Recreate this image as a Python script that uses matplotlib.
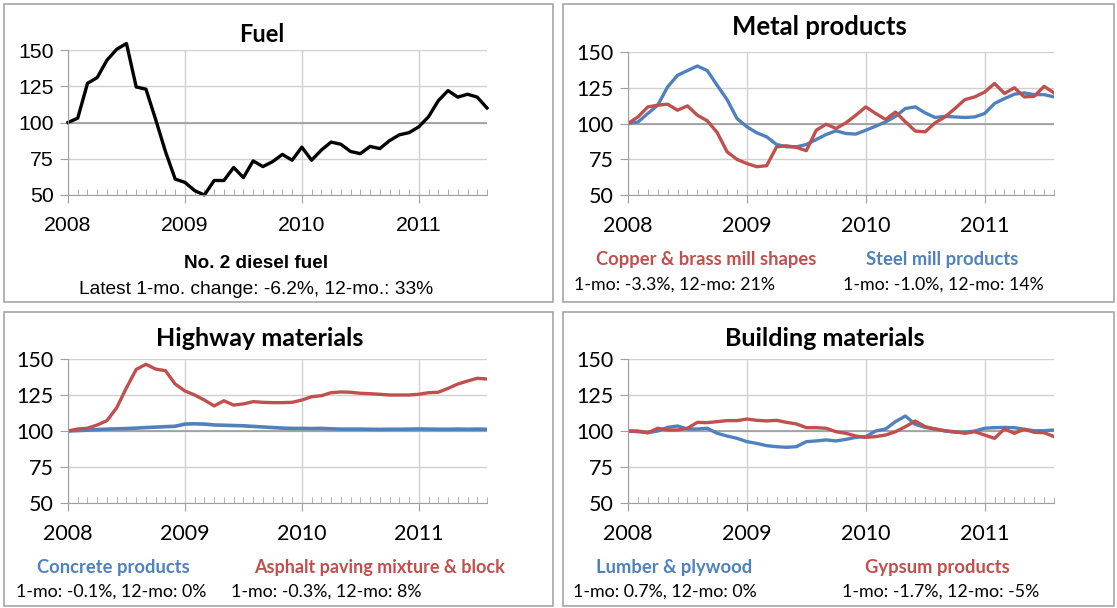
import numpy as np
import matplotlib
matplotlib.use('Agg')
from matplotlib import pyplot as plt
from matplotlib.patches import Rectangle

# monthly index values, Jan 2008 = 100, Jan 2008 .. Aug 2011
years = ['2008', '2009', '2010', '2011']

diesel = [100, 103, 127, 131, 143, 150.5, 154.5, 124.5, 123, 102, 80, 61,
          58.7, 53, 50, 60, 60, 69, 62, 73.5, 69.6, 73, 78, 74,
          83, 74, 81, 86.5, 85, 80, 78.5, 83.5, 82, 87.5, 91.5, 93,
          97, 104, 115, 122, 117.5, 119.5, 117.5, 110]

copper = [100, 104.6, 111.6, 112.8, 113.5, 109.3, 112.3, 105.8, 101.9, 93.7, 80.2, 74.9,
          72, 69.8, 70.5, 83.7, 84.4, 83.3, 81, 95.3, 99.5, 96.5, 100.5, 105.8,
          111.6, 107, 102.8, 108, 101.2, 94.7, 94.2, 100.5, 104.6, 110.5, 116.7, 118.6,
          122, 128, 121, 125, 118.6, 119, 126, 121.4]

steel = [100, 101, 107, 112.8, 125.6, 133.7, 137, 140.2, 137, 126.7, 116.7, 103.5,
         97.7, 93.5, 90.7, 85.3, 83.7, 83.7, 85.3, 88.8, 92.3, 94.9, 93, 92.6,
         95.3, 98.1, 101.1, 105, 110.5, 111.6, 107.4, 104.2, 105, 104.6, 104.2, 104.6,
         107, 114, 117.4, 120.5, 121.4, 120.2, 120.2, 118.6]

concrete = [100, 100.3, 100.6, 101, 101.3, 101.5, 101.7, 102, 102.4, 102.7, 103, 103.3,
            104.8, 105, 104.8, 104.2, 104, 103.8, 103.6, 103.2, 102.8, 102.4, 102, 101.8,
            101.8, 101.7, 101.8, 101.5, 101.3, 101.3, 101.3, 101.2, 101.1, 101.2, 101.2, 101.3,
            101.4, 101.3, 101.2, 101.2, 101.3, 101.2, 101.3, 101.2]

asphalt = [100, 101.4, 101.9, 104.2, 107.2, 116.2, 130, 142.8, 146.3, 143, 141.9, 132.6,
           127.8, 125, 121.5, 117.4, 121, 118, 118.8, 120.4, 119.9, 119.7, 119.7, 119.9,
           121.5, 123.8, 124.5, 126.6, 127.1, 126.9, 126.2, 125.9, 125.5, 125, 125, 125,
           125.5, 126.6, 126.9, 129.6, 132.6, 134.7, 136.6, 136.1]

lumber = [100, 99.5, 98.8, 100, 102.5, 103.5, 101.4, 101.4, 101.9, 98.4, 96.5, 94.9,
          92.6, 91.4, 89.8, 89.1, 88.7, 89.1, 92.6, 93.1, 93.8, 93.1, 94.2, 95.6,
          96.1, 100, 101.4, 106.5, 110.4, 104.6, 102.5, 101.4, 100, 99.1, 99.1, 100,
          101.9, 102.3, 102.5, 102.3, 101.2, 100.2, 100.2, 100.7]

gypsum = [100, 100, 98.8, 101.9, 100.7, 100.7, 101.9, 106, 105.8, 106.5, 107.2, 107.2,
          108.3, 107.4, 107, 107.4, 106, 104.9, 102.3, 102.3, 101.9, 99.5, 98.4, 96.5,
          95.6, 96.1, 97.2, 99.5, 103, 106.9, 103, 101.4, 100.2, 99.5, 98.4, 99.5,
          97.2, 94.9, 101.4, 98.4, 101.2, 99.1, 98.8, 96.1]

RED = '#C0504D'
BLUE = '#4F81BD'
W, H = 1117, 608
CAL = ['Lato', 'DejaVu Sans']
ARI = ['Liberation Sans', 'DejaVu Sans']

fig = plt.figure(figsize=(W / 100, H / 100), dpi=100)


def px_axes(l, t, r, b):
    return fig.add_axes([l / W, 1 - b / H, (r - l) / W, (b - t) / H])


def ftext(x, y, s, **kw):
    fig.text(x / W, 1 - y / H, s, ha='center', va='center', **kw)


def box(l, t, r, b):
    fig.patches.append(Rectangle((l / W, 1 - b / H), (r - l) / W, (b - t) / H,
                                 transform=fig.transFigure, fill=False,
                                 edgecolor='#a6a6a6', linewidth=1.2))


def setup(ax, family, size):
    x = np.arange(len(diesel))
    ax.set_xlim(0, len(x) - 1)
    ax.set_ylim(50, 150)
    ax.set_yticks([50, 75, 100, 125, 150])
    ax.set_xticks(np.arange(0, len(x), 12))
    ax.set_xticklabels(years)
    ax.set_xticks(x, minor=True)
    ax.grid(True, which='major', color='#d0d0d0', linewidth=1)
    ax.axhline(100, color='#9a9a9a', linewidth=1.2, zorder=1)
    for s in ['top', 'right']:
        ax.spines[s].set_visible(False)
    for s in ['left', 'bottom']:
        ax.spines[s].set_color('#a0a0a0')
    ax.tick_params(which='major', length=5.5, color='#a0a0a0', direction='out')
    ax.tick_params(axis='x', which='major', pad=9.5)
    ax.tick_params(axis='x', which='minor', length=4, color='#a0a0a0', direction='in')
    ax.tick_params(axis='y', which='major', pad=5)
    for lab in ax.get_xticklabels() + ax.get_yticklabels():
        lab.set_family(family)
        lab.set_fontsize(size)
    ax.set_axisbelow(True)
    return x


box(4, 4, 553, 302)
box(563, 4, 1114, 302)
box(4, 312, 553, 606)
box(563, 312, 1114, 606)

# Fuel
ax = px_axes(68, 50, 487, 195)
x = setup(ax, ARI, 15.3)
ax.plot(x, diesel, color='black', linewidth=2.4, clip_on=False)
ftext(262, 35, 'Fuel', family=CAL, fontsize=17, fontweight='bold')
ftext(256, 264, 'No. 2 diesel fuel', family=ARI, fontsize=13.6, fontweight='bold')
ftext(256, 289, 'Latest 1-mo. change: -6.2%, 12-mo.: 33%', family=ARI, fontsize=13.8)

# Metal products
ax = px_axes(628, 52, 1054, 195)
x = setup(ax, CAL, 15.5)
ax.plot(x, steel, color=BLUE, linewidth=2.4)
ax.plot(x, copper, color=RED, linewidth=2.4)
ftext(819, 27, 'Metal products', family=CAL, fontsize=18.5, fontweight='bold')
ftext(706, 260, 'Copper & brass mill shapes', family=CAL, fontsize=13.2, fontweight='bold', color=RED)
ftext(674, 285, '1-mo: -3.3%, 12-mo: 21%', family=CAL, fontsize=12.8)
ftext(942, 260, 'Steel mill products', family=CAL, fontsize=13.2, fontweight='bold', color=BLUE)
ftext(943, 285, '1-mo: -1.0%, 12-mo: 14%', family=CAL, fontsize=12.8)

# Highway materials
ax = px_axes(68, 359, 487, 503)
x = setup(ax, CAL, 15.5)
ax.plot(x, concrete, color=BLUE, linewidth=2.6)
ax.plot(x, asphalt, color=RED, linewidth=2.4)
ftext(260, 338, 'Highway materials', family=CAL, fontsize=18, fontweight='bold')
ftext(113, 567, 'Concrete products', family=CAL, fontsize=13.2, fontweight='bold', color=BLUE)
ftext(111, 592, '1-mo: -0.1%, 12-mo: 0%', family=CAL, fontsize=12.8)
ftext(380, 567, 'Asphalt paving mixture & block', family=CAL, fontsize=13, fontweight='bold', color=RED)
ftext(326, 592, '1-mo: -0.3%, 12-mo: 8%', family=CAL, fontsize=12.8)

# Building materials
ax = px_axes(628, 359, 1054, 503)
x = setup(ax, CAL, 15.5)
ax.plot(x, lumber, color=BLUE, linewidth=2.4)
ax.plot(x, gypsum, color=RED, linewidth=2.4)
ftext(825, 338, 'Building materials', family=CAL, fontsize=18, fontweight='bold')
ftext(674, 567, 'Lumber & plywood', family=CAL, fontsize=13.2, fontweight='bold', color=BLUE)
ftext(665, 592, '1-mo: 0.7%, 12-mo: 0%', family=CAL, fontsize=12.8)
ftext(937, 567, 'Gypsum products', family=CAL, fontsize=13.2, fontweight='bold', color=RED)
ftext(941, 592, '1-mo: -1.7%, 12-mo: -5%', family=CAL, fontsize=12.8)

fig.savefig('out.png', dpi=100)
